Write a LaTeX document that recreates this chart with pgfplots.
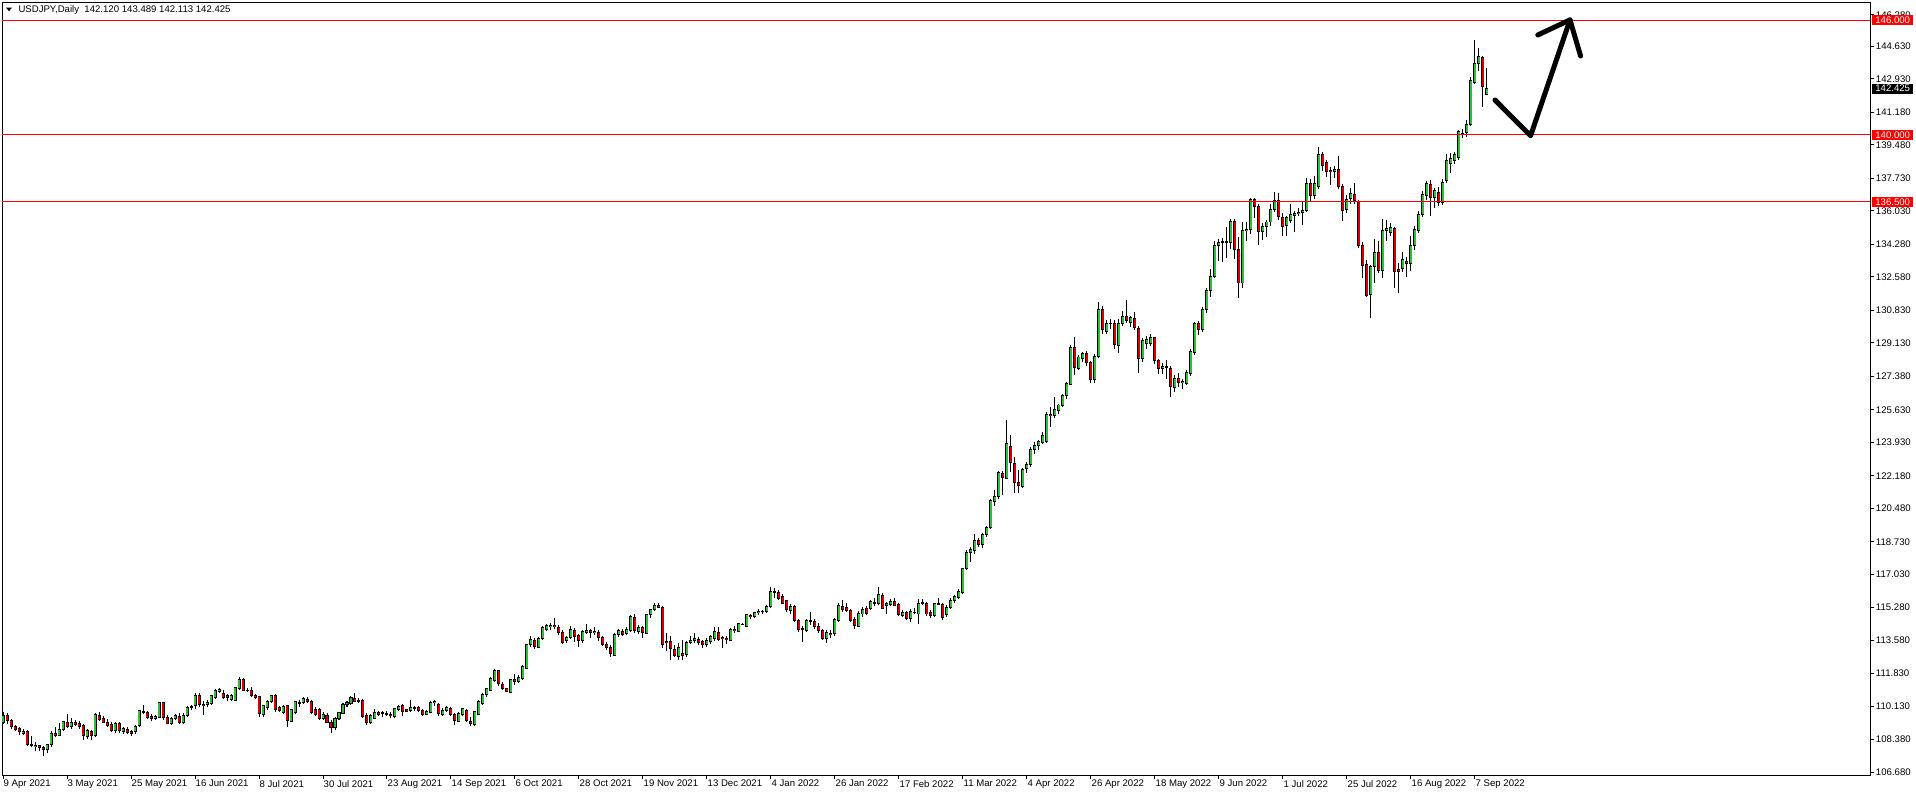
\documentclass[border=0pt]{standalone}
\usepackage{fontspec}
\setmainfont{Liberation Sans}
\usepackage{pgfplots}
\usepackage{pgfplotstable}
\pgfplotsset{compat=1.18}
\definecolor{bull}{RGB}{50,190,50}
\definecolor{bear}{RGB}{215,0,0}
\newcommand\mtfont{\fontsize{9.6}{11}\selectfont}

% USDJPY daily, 9 Apr 2021 - 12 Sep 2022, one row per bar
\pgfplotstableread{
o h l c
109.25 109.80 109.20 109.63
109.63 109.79 109.20 109.40
109.38 109.45 108.92 109.06
109.06 109.15 108.85 108.93
108.95 109.05 108.60 108.78
108.72 108.96 108.62 108.78
108.78 108.90 108.05 108.12
108.12 108.57 107.98 108.08
108.02 108.28 107.78 108.08
108.08 108.12 107.81 107.96
107.96 108.05 107.50 107.88
107.88 108.15 107.70 108.10
108.10 108.82 107.98 108.72
108.72 109.05 108.50 108.60
108.60 109.25 108.55 108.92
108.92 109.38 108.82 109.32
109.30 109.70 109.00 109.08
109.05 109.50 108.95 109.30
109.28 109.40 109.10 109.18
109.20 109.35 108.95 109.05
109.10 109.20 108.36 108.60
108.53 108.95 108.40 108.88
108.80 108.90 108.35 108.60
108.58 109.78 108.50 109.70
109.65 109.80 109.35 109.44
109.47 109.60 109.25 109.30
109.30 109.45 109.05 109.14
109.18 109.30 108.80 108.85
108.85 109.30 108.75 109.23
109.23 109.30 108.75 108.88
108.78 109.05 108.70 108.95
108.92 109.05 108.65 108.75
108.78 108.90 108.55 108.70
108.78 109.15 108.68 109.05
109.13 109.92 109.05 109.88
109.82 110.20 109.70 109.85
109.79 109.88 109.45 109.55
109.57 109.70 109.35 109.48
109.50 109.65 109.40 109.57
109.53 110.35 109.50 110.32
110.32 110.33 109.40 109.55
109.55 109.65 109.20 109.23
109.23 109.55 109.15 109.50
109.48 109.70 109.40 109.63
109.60 109.75 109.20 109.30
109.27 109.75 109.20 109.66
109.65 110.12 109.55 110.07
110.07 110.20 109.95 110.10
110.14 110.80 110.00 110.70
110.68 110.80 110.10 110.20
110.23 110.40 109.67 110.17
110.20 110.45 110.10 110.33
110.27 110.72 110.20 110.68
110.57 111.05 110.50 110.97
110.92 111.10 110.80 110.98
110.78 110.95 110.50 110.56
110.70 110.75 110.40 110.60
110.47 110.75 110.40 110.68
110.45 111.15 110.40 111.12
111.06 111.65 111.00 111.55
111.55 111.60 110.90 110.97
110.97 111.10 110.85 110.95
110.95 111.15 110.60 110.68
110.68 110.75 110.50 110.60
110.64 110.65 109.55 109.75
109.70 110.20 109.55 110.15
110.07 110.45 109.95 110.38
110.37 110.70 110.30 110.68
110.68 110.75 109.85 109.97
110.06 110.15 109.80 109.90
109.80 110.20 109.70 110.13
110.14 110.20 109.05 109.40
109.35 110.00 109.30 109.93
109.80 110.40 109.70 110.35
110.30 110.45 110.10 110.25
110.33 110.60 110.25 110.55
110.50 110.60 110.30 110.35
110.37 110.45 109.70 109.80
109.93 110.10 109.60 109.68
109.93 110.05 109.40 109.47
109.47 109.80 109.40 109.70
109.65 109.75 109.25 109.30
109.30 109.40 108.72 109.00
109.00 109.55 108.90 109.47
109.47 109.85 109.40 109.78
109.76 110.30 109.70 110.24
110.20 110.40 110.10 110.32
110.27 110.65 110.20 110.60
110.55 110.80 110.35 110.40
110.40 110.55 110.30 110.45
110.43 110.50 109.50 109.57
109.65 109.75 109.15 109.30
109.30 109.70 109.20 109.64
109.50 110.00 109.45 109.78
109.78 109.90 109.60 109.72
109.75 109.90 109.55 109.80
109.75 109.90 109.60 109.70
109.70 109.80 109.50 109.62
109.57 110.05 109.50 110.00
109.97 110.20 109.90 110.10
110.14 110.25 109.60 109.86
109.95 110.00 109.80 109.86
109.90 110.45 109.85 110.04
110.00 110.15 109.90 110.05
110.05 110.15 109.85 109.92
109.90 110.00 109.60 109.69
109.70 109.95 109.65 109.85
109.80 110.40 109.75 110.30
110.30 110.45 110.15 110.38
110.23 110.30 109.60 109.74
109.72 110.05 109.60 109.92
109.90 110.15 109.85 110.05
109.99 110.10 109.60 109.69
109.68 109.75 109.12 109.40
109.35 109.85 109.30 109.77
109.69 110.05 109.60 109.99
109.92 110.00 109.30 109.40
109.35 109.55 109.10 109.20
109.17 109.90 109.10 109.84
109.72 110.45 109.65 110.37
110.28 110.80 110.20 110.75
110.75 111.10 110.60 111.06
110.97 111.65 110.90 111.57
111.46 112.08 111.40 112.02
111.97 112.00 111.20 111.29
111.25 111.40 110.95 111.04
111.04 111.10 110.85 110.92
110.87 111.55 110.80 111.50
111.50 111.80 111.25 111.40
111.41 111.75 111.35 111.64
111.58 112.30 111.50 112.23
112.11 113.40 112.05 113.33
113.33 113.80 113.20 113.64
113.57 113.70 113.10 113.24
113.20 113.75 113.15 113.69
113.66 114.30 113.60 114.25
114.15 114.45 114.05 114.34
114.30 114.47 114.10 114.36
114.36 114.72 114.15 114.30
114.22 114.35 113.85 113.99
113.99 114.10 113.40 113.47
113.55 113.80 113.45 113.73
113.73 114.30 113.65 114.15
114.11 114.20 113.50 113.76
113.80 113.90 113.25 113.55
113.55 114.10 113.45 114.04
113.97 114.45 113.90 114.09
114.09 114.15 113.70 113.98
113.98 114.25 113.85 114.05
114.00 114.10 113.55 113.71
113.73 113.80 113.30 113.35
113.38 113.50 113.05 113.19
113.20 113.35 112.72 112.86
112.80 113.95 112.75 113.90
113.87 114.15 113.75 114.08
114.06 114.15 113.80 113.87
113.94 114.25 113.85 114.16
114.08 114.90 114.00 114.84
114.77 114.95 113.95 114.08
114.02 114.35 113.90 114.25
114.25 114.30 113.70 113.97
113.94 114.95 113.90 114.90
114.90 115.20 114.75 115.16
115.16 115.50 115.10 115.42
115.42 115.52 115.25 115.30
115.30 115.35 113.15 113.35
113.52 113.95 113.00 113.45
113.52 113.80 112.54 113.14
113.07 113.35 112.70 112.79
112.72 113.45 112.55 113.20
112.89 113.60 112.55 112.79
112.82 113.55 112.70 113.47
113.45 113.80 113.40 113.59
113.55 113.95 113.45 113.69
113.62 113.75 113.35 113.45
113.50 113.60 113.15 113.33
113.33 113.70 113.20 113.59
113.52 113.85 113.40 113.76
113.66 114.25 113.55 114.06
114.00 114.25 113.55 113.64
113.73 113.80 113.15 113.66
113.66 113.80 113.40 113.60
113.59 114.20 113.55 114.15
114.15 114.30 113.95 114.08
114.06 114.50 114.00 114.46
114.42 114.50 114.35 114.40
114.29 114.95 114.25 114.90
114.88 114.95 114.70 114.82
114.81 115.05 114.75 115.04
115.04 115.20 114.90 115.10
115.10 115.15 114.95 115.08
115.07 115.40 115.00 115.33
115.33 116.34 115.25 116.13
116.13 116.30 115.80 116.10
116.08 116.20 115.70 115.77
115.86 116.00 115.45 115.51
115.68 115.70 115.05 115.16
115.12 115.45 114.95 115.33
115.33 115.40 114.55 114.60
114.63 114.70 114.00 114.15
114.15 114.30 113.50 114.20
114.08 114.70 114.00 114.63
114.63 115.05 114.40 114.58
114.58 114.70 114.15 114.32
114.32 114.50 113.95 114.08
114.11 114.15 113.60 113.66
113.66 114.10 113.45 114.00
113.94 114.10 113.70 113.87
113.94 114.75 113.80 114.67
114.63 115.50 114.55 115.37
115.33 115.70 115.05 115.16
115.30 115.50 115.05 115.12
115.12 115.20 114.55 114.63
114.67 114.80 114.15 114.37
114.32 115.10 114.25 114.98
114.95 115.30 114.80 115.19
115.25 115.35 114.90 114.98
115.25 115.70 115.15 115.59
115.55 115.80 115.35 115.52
115.51 116.35 115.40 115.99
115.94 116.05 115.20 115.25
115.37 115.60 114.95 115.51
115.47 115.75 115.35 115.61
115.58 115.80 115.35 115.42
115.44 115.50 114.85 114.93
114.88 115.15 114.80 115.04
115.04 115.10 114.65 114.72
114.72 115.20 114.55 115.07
115.05 115.25 114.95 115.03
114.95 115.75 114.41 115.50
115.50 115.75 115.40 115.55
115.50 115.60 114.85 114.95
115.02 115.15 114.75 114.88
114.88 115.55 114.80 115.50
115.50 115.80 115.40 115.45
115.45 115.55 114.65 114.77
114.90 115.40 114.80 115.30
115.30 115.80 115.20 115.68
115.68 115.95 115.55 115.89
115.82 116.25 115.75 116.15
116.08 117.35 116.00 117.32
117.32 118.30 117.25 118.17
118.17 118.45 117.68 118.30
118.28 119.12 118.10 118.77
118.77 118.90 118.45 118.56
118.56 119.20 118.40 119.12
119.13 119.55 119.00 119.48
119.46 120.95 119.40 120.86
120.81 121.42 120.60 121.12
121.09 122.45 120.95 122.37
122.32 122.45 121.18 122.08
122.04 125.10 122.00 123.87
123.73 124.31 122.40 122.86
122.83 123.18 121.30 121.82
121.82 122.48 121.28 121.68
121.64 122.60 121.55 122.52
122.55 122.90 122.30 122.78
122.78 123.70 122.65 123.56
123.54 123.95 123.30 123.75
123.75 124.05 123.55 123.98
123.93 124.45 123.85 124.31
123.96 125.50 123.90 125.39
125.39 125.75 124.75 125.32
125.32 126.32 125.20 125.67
125.58 125.95 125.40 125.88
125.86 126.45 125.75 126.40
126.39 127.10 126.20 127.01
126.96 129.00 126.90 128.91
128.90 129.42 127.45 127.83
127.78 128.50 127.70 128.39
128.30 128.65 128.15 128.55
128.58 128.70 127.90 128.09
128.11 128.20 127.05 127.22
127.22 128.55 127.05 128.44
128.41 131.28 128.35 130.85
130.85 131.05 129.60 129.84
129.71 130.30 129.60 130.15
130.15 130.40 129.85 130.12
130.12 130.35 128.80 129.05
128.98 130.40 128.62 130.15
130.12 130.80 130.00 130.53
130.53 131.37 130.15 130.29
130.19 130.55 129.95 130.45
130.41 130.75 129.80 129.92
129.89 130.00 127.53 128.30
128.30 129.40 128.15 129.23
129.09 129.50 128.80 129.31
129.09 129.60 128.95 129.40
129.40 129.45 128.00 128.20
128.20 128.30 127.50 127.80
127.80 128.10 127.50 127.88
127.90 128.25 127.25 127.85
127.80 127.90 126.31 126.84
126.80 127.45 126.55 127.29
127.29 127.55 126.80 127.05
127.05 127.25 126.70 127.12
127.01 127.70 126.90 127.60
127.54 128.80 127.40 128.69
128.63 130.20 128.50 130.15
130.12 130.25 129.55 129.85
129.85 130.98 129.70 130.85
130.87 131.98 130.71 131.88
131.88 132.99 131.55 132.61
132.61 134.48 132.53 134.24
134.24 134.56 133.41 134.36
134.36 134.59 133.37 134.41
134.41 135.19 133.58 134.39
134.39 135.60 134.05 135.46
135.46 135.59 133.51 134.00
134.00 134.68 131.49 132.26
132.26 135.44 131.99 134.99
134.99 135.43 134.45 135.06
135.06 136.71 134.83 136.65
136.65 136.71 135.67 136.25
136.25 136.37 134.27 134.95
134.95 135.38 134.53 135.21
135.21 135.57 134.68 135.45
135.45 136.38 135.24 136.12
136.12 137.00 135.97 136.60
136.60 136.98 135.57 135.72
135.69 135.92 134.74 135.21
135.26 135.75 134.72 135.66
135.52 136.39 135.40 135.85
135.78 136.05 134.95 135.90
135.90 136.20 135.75 135.97
135.97 136.57 135.29 136.05
136.04 137.77 135.95 137.44
137.44 137.70 136.55 136.83
136.83 137.86 136.65 137.44
137.30 139.36 137.20 138.96
138.96 139.10 138.10 138.40
138.54 138.70 137.80 138.08
138.15 138.35 137.37 138.07
138.10 138.40 137.75 138.20
138.20 138.90 137.20 137.30
137.30 137.45 135.52 136.04
136.11 136.85 135.90 136.65
136.67 137.25 136.40 136.92
136.90 137.51 136.40 136.57
136.50 136.60 134.10 134.21
134.23 134.40 132.50 133.19
133.24 133.45 131.55 131.60
131.65 133.20 130.41 133.13
133.11 134.56 132.28 133.88
133.88 134.46 132.80 132.91
132.91 135.59 132.50 135.03
135.03 135.58 134.44 135.09
134.91 135.40 134.70 135.14
135.09 135.20 132.02 132.85
132.98 133.29 131.72 132.85
133.03 133.88 132.85 133.50
133.41 133.60 132.59 133.29
133.29 134.72 132.91 134.23
134.20 135.25 134.00 135.07
135.00 136.00 134.85 135.85
135.82 137.05 135.70 136.90
136.85 137.60 136.60 137.47
137.42 137.65 135.78 136.72
136.72 137.25 136.16 137.11
137.00 137.30 136.29 136.48
136.48 137.70 136.35 137.53
137.61 139.00 137.50 138.66
138.52 139.04 138.03 138.78
138.66 139.10 138.50 138.96
138.83 140.25 138.70 140.17
140.10 140.30 139.85 140.08
140.12 140.79 139.91 140.56
140.56 143.05 140.45 142.83
142.76 144.97 142.65 143.75
143.75 144.54 143.35 144.13
144.06 144.13 141.48 142.53
142.12 143.49 142.11 142.43
}\usdjpy

\begin{document}
\begin{tikzpicture}
\begin{axis}[
  name=main,
  scale only axis,
  width=1868.3pt, height=772.7pt,
  xmin=-0.25, xmax=466.825,
  ymin=106.53, ymax=146.94,
  axis line style={line width=1pt, black},
  tick align=outside,
  xtick pos=left, ytick pos=right, yticklabel pos=right,
  major tick length=4pt,
  tick style={line width=1pt, black},
  ticklabel style={font=\mtfont},
  xtick={0,16,...,368},
  xticklabels={9 Apr 2021, 3 May 2021, 25 May 2021, 16 Jun 2021, 8 Jul 2021,
    30 Jul 2021, 23 Aug 2021, 14 Sep 2021, 6 Oct 2021, 28 Oct 2021,
    19 Nov 2021, 13 Dec 2021, 4 Jan 2022, 26 Jan 2022, 17 Feb 2022,
    11 Mar 2022, 4 Apr 2022, 26 Apr 2022, 18 May 2022, 9 Jun 2022,
    1 Jul 2022, 25 Jul 2022, 16 Aug 2022, 7 Sep 2022},
  xticklabel style={anchor=north west, inner sep=0pt, xshift=0.5pt, yshift=-1pt},
  ytick={146.28,144.63,142.93,141.18,139.48,137.73,136.03,134.28,132.58,
    130.83,129.13,127.38,125.63,123.93,122.18,120.48,118.73,117.03,
    115.28,113.58,111.83,110.13,108.38,106.68},
  yticklabels={146.280,144.630,142.930,141.180,139.480,137.730,136.030,
    134.280,132.580,130.830,129.130,127.380,125.630,123.930,122.180,
    120.480,118.730,117.030,115.280,113.580,111.830,110.130,108.380,106.680},
  yticklabel style={anchor=west, inner sep=1.5pt},
]
% wicks
\addplot[draw=none, mark=none, error bars/.cd, y dir=plus, y explicit,
  error mark=none, error bar style={draw=black, line width=1pt}]
  table[x expr=\coordindex, y=l, y error plus expr=\thisrow{h}-\thisrow{l}] {\usdjpy};
% body outlines
\addplot[draw=none, mark=none, error bars/.cd, y dir=plus, y explicit,
  error mark=none, error bar style={draw=black, line width=3pt, line cap=butt}]
  table[x expr=\coordindex, y expr={min(\thisrow{o},\thisrow{c})-0.026},
    y error plus expr={abs(\thisrow{c}-\thisrow{o})+0.052}] {\usdjpy};
% bull bodies
\addplot[draw=none, mark=none, error bars/.cd, y dir=plus, y explicit,
  error mark=none, error bar style={draw=bull, line width=1.2pt, line cap=butt}]
  table[x expr=\coordindex, y expr={min(\thisrow{o},\thisrow{c})+0.026},
    y error plus expr={(\thisrow{c}>\thisrow{o})*max(abs(\thisrow{c}-\thisrow{o})-0.052,0)}] {\usdjpy};
% bear bodies
\addplot[draw=none, mark=none, error bars/.cd, y dir=plus, y explicit,
  error mark=none, error bar style={draw=bear, line width=1.2pt, line cap=butt}]
  table[x expr=\coordindex, y expr={min(\thisrow{o},\thisrow{c})+0.026},
    y error plus expr={(\thisrow{c}<\thisrow{o})*max(abs(\thisrow{c}-\thisrow{o})-0.052,0)}] {\usdjpy};

% levels
\addplot[red, line width=1pt] coordinates {(-0.25,146) (466.825,146)};
\addplot[red, line width=1pt] coordinates {(-0.25,140) (466.825,140)};
\addplot[red, line width=1pt] coordinates {(-0.25,136.5) (466.825,136.5)};

% hand-drawn projection
\addplot[black, line width=5pt, line cap=round, line join=round]
  coordinates {(373,141.83) (381.9,139.96) (391.75,146.02)};
\addplot[black, line width=5pt, line cap=round, line join=round]
  coordinates {(383.7,145.23) (391.75,146.02) (394.4,144.13)};

\coordinate (L146) at (axis cs:466.825,146);
\coordinate (L140) at (axis cs:466.825,140);
\coordinate (L1365) at (axis cs:466.825,136.5);
\coordinate (Lnow) at (axis cs:466.825,142.425);
\end{axis}

\tikzset{pricebox/.style={anchor=west, xshift=1.7pt, inner sep=0pt,
  minimum width=41pt, minimum height=10pt, text=white, font=\mtfont}}
\node[pricebox, fill=red] at (L146) {146.000};
\node[pricebox, fill=red] at (L140) {140.000};
\node[pricebox, fill=red] at (L1365) {136.500};
\node[pricebox, fill=black] at (Lnow) {142.425};

\fill[black] (4pt,767.3pt) -- (10pt,767.3pt) -- (7pt,763.8pt) -- cycle;
\node[anchor=west, inner sep=0pt, font=\mtfont] at (16.3pt,765pt)
  {USDJPY,Daily\ \ 142.120 143.489 142.113 142.425};

\pgfresetboundingbox
\path[use as bounding box] (-2pt,-21pt) rectangle (1914pt,775pt);
\end{tikzpicture}
\end{document}
